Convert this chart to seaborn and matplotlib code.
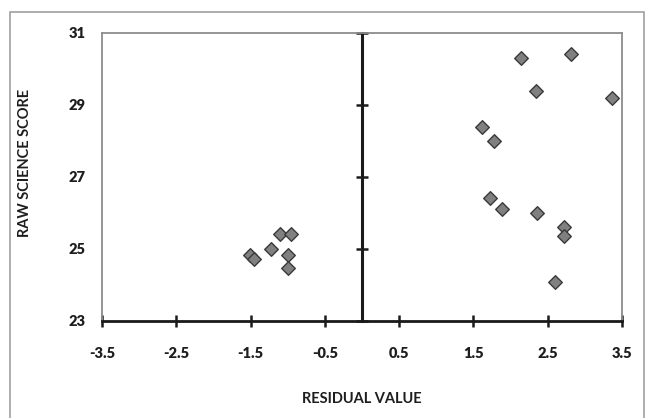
import pandas as pd
import matplotlib
matplotlib.use("Agg")
import matplotlib.pyplot as plt
import seaborn as sns
from matplotlib.patches import Rectangle

# residual vs raw score
residual = [-1.51, -1.45, -1.23, -1.10, -0.96, -0.99, -1.00,
            2.14, 2.81, 2.34, 3.37, 1.62, 1.78, 1.72, 1.89, 2.35, 2.72, 2.72, 2.60]
raw_score = [24.83, 24.71, 24.99, 25.41, 25.41, 24.83, 24.48,
             30.30, 30.41, 29.40, 29.19, 28.40, 28.00, 26.41, 26.11, 25.99, 25.62, 25.37, 24.08]
x_ticks = [-3.5, -2.5, -1.5, -0.5, 0.5, 1.5, 2.5, 3.5]
y_ticks = [23, 25, 27, 29, 31]

df = pd.DataFrame({"residual": residual, "raw": raw_score})

sns.set_style("white")
plt.rcParams["font.family"] = ["Lato", "DejaVu Sans"]

fig = plt.figure(figsize=(6.46, 4.18), dpi=100)
fig.patches.append(Rectangle((0.0155, -0.01), 0.982, 0.981, transform=fig.transFigure,
                             fill=False, edgecolor="#a0a0a0", linewidth=1.2))
ax = fig.add_axes([0.1579, 0.2321, 0.8049, 0.689])

sns.scatterplot(data=df, x="residual", y="raw", marker="D", s=48,
                color="#808080", edgecolor="#3a3a3a", linewidth=1.0, ax=ax, zorder=5)

ax.set_xlim(-3.5, 3.5)
ax.set_ylim(23, 31)
ax.set_xticks(x_ticks)
ax.set_xticklabels([str(t) for t in x_ticks])
ax.set_yticks(y_ticks)
ax.set_yticklabels([str(t) for t in y_ticks])

for side in ["top", "right", "left"]:
    ax.spines[side].set_color("#8c8c8c")
    ax.spines[side].set_linewidth(1.3)
ax.spines["bottom"].set_color("#1a1a1a")
ax.spines["bottom"].set_linewidth(2.0)

ax.tick_params(axis="x", direction="inout", length=9, width=1.8, color="#1a1a1a",
               labelsize=10.5, labelcolor="#1e1e1e", pad=14, bottom=True)
ax.tick_params(axis="y", length=0, labelsize=10.5, labelcolor="#1e1e1e", pad=12, left=True)
for lab in ax.get_xticklabels() + ax.get_yticklabels():
    lab.set_fontweight("heavy")

# vertical axis crossing at zero
sec = ax.secondary_yaxis(0.5)
for sp in sec.spines.values():
    sp.set_color("#1a1a1a")
    sp.set_linewidth(2.2)
sec.set_yticks(y_ticks)
sec.yaxis.set_ticklabels([])
sec.tick_params(axis="y", direction="inout", length=9, width=1.8, color="#1a1a1a",
                labelleft=False, labelright=False)

ax.set_xlabel("RESIDUAL VALUE", fontsize=10.5, fontweight="bold", color="#1e1e1e")
ax.set_ylabel("RAW SCIENCE SCORE", fontsize=10.5, fontweight="bold", color="#1e1e1e")
ax.xaxis.set_label_coords(0.5, -0.2465)
ax.yaxis.set_label_coords(-0.135, 0.549)

fig.savefig("out.png", dpi=100)
